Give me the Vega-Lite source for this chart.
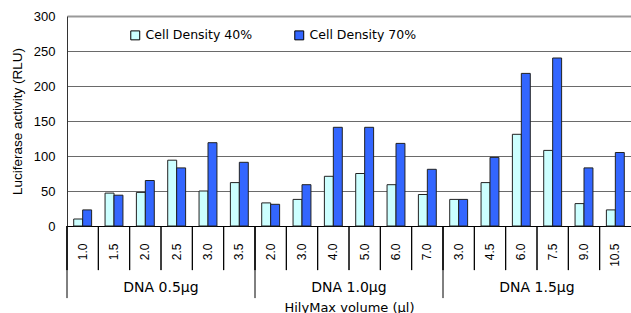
{
  "$schema": "https://vega.github.io/schema/vega-lite/v6.json",
  "width": 564,
  "height": 210,
  "autosize": {"type": "none"},
  "padding": {"left": 67, "top": 16, "right": 0, "bottom": 87},
  "config": {
    "font": "Liberation Sans", "view": {"stroke": null}, "text": {"font": "DejaVu Sans"},
    "axisY": {
      "values": [0, 50, 100, 150, 200, 250, 300], "tickCount": 7, "labelOverlap": false,
      "labelFontSize": 13, "labelColor": "#000", "labelPadding": 12,
      "ticks": false, "domainColor": "#333", "grid": true,
      "gridColor": {"expr": "datum.value == 300 ? '#999999' : '#6a6a6a'"},
      "gridWidth": {"expr": "datum.value == 300 ? 2 : 1.2"},
      "titleFontSize": 13.5, "titleFontWeight": "normal", "titleColor": "#000", "titlePadding": 9
    }
  },
  "datasets": {
    "bars": [
      {"cat": "0.5|1.0", "series": "Cell Density 40%", "value": 10},
      {"cat": "0.5|1.0", "series": "Cell Density 70%", "value": 23},
      {"cat": "0.5|1.5", "series": "Cell Density 40%", "value": 47},
      {"cat": "0.5|1.5", "series": "Cell Density 70%", "value": 44},
      {"cat": "0.5|2.0", "series": "Cell Density 40%", "value": 48},
      {"cat": "0.5|2.0", "series": "Cell Density 70%", "value": 65},
      {"cat": "0.5|2.5", "series": "Cell Density 40%", "value": 94},
      {"cat": "0.5|2.5", "series": "Cell Density 70%", "value": 83},
      {"cat": "0.5|3.0", "series": "Cell Density 40%", "value": 50},
      {"cat": "0.5|3.0", "series": "Cell Density 70%", "value": 119},
      {"cat": "0.5|3.5", "series": "Cell Density 40%", "value": 62},
      {"cat": "0.5|3.5", "series": "Cell Density 70%", "value": 91},
      {"cat": "1.0|2.0", "series": "Cell Density 40%", "value": 33},
      {"cat": "1.0|2.0", "series": "Cell Density 70%", "value": 31},
      {"cat": "1.0|3.0", "series": "Cell Density 40%", "value": 38},
      {"cat": "1.0|3.0", "series": "Cell Density 70%", "value": 59},
      {"cat": "1.0|4.0", "series": "Cell Density 40%", "value": 71},
      {"cat": "1.0|4.0", "series": "Cell Density 70%", "value": 141},
      {"cat": "1.0|5.0", "series": "Cell Density 40%", "value": 75},
      {"cat": "1.0|5.0", "series": "Cell Density 70%", "value": 141},
      {"cat": "1.0|6.0", "series": "Cell Density 40%", "value": 59},
      {"cat": "1.0|6.0", "series": "Cell Density 70%", "value": 118},
      {"cat": "1.0|7.0", "series": "Cell Density 40%", "value": 45},
      {"cat": "1.0|7.0", "series": "Cell Density 70%", "value": 81},
      {"cat": "1.5|3.0", "series": "Cell Density 40%", "value": 38},
      {"cat": "1.5|3.0", "series": "Cell Density 70%", "value": 38},
      {"cat": "1.5|4.5", "series": "Cell Density 40%", "value": 62},
      {"cat": "1.5|4.5", "series": "Cell Density 70%", "value": 98},
      {"cat": "1.5|6.0", "series": "Cell Density 40%", "value": 131},
      {"cat": "1.5|6.0", "series": "Cell Density 70%", "value": 218},
      {"cat": "1.5|7.5", "series": "Cell Density 40%", "value": 108},
      {"cat": "1.5|7.5", "series": "Cell Density 70%", "value": 240},
      {"cat": "1.5|9.0", "series": "Cell Density 40%", "value": 32},
      {"cat": "1.5|9.0", "series": "Cell Density 70%", "value": 83},
      {"cat": "1.5|10.5", "series": "Cell Density 40%", "value": 23},
      {"cat": "1.5|10.5", "series": "Cell Density 70%", "value": 105}
    ],
    "groups": [
      {"label": "DNA 0.5μg", "first": "0.5|1.0", "mid": "0.5|2.5"},
      {"label": "DNA 1.0μg", "first": "1.0|2.0", "mid": "1.0|5.0"},
      {"label": "DNA 1.5μg", "first": "1.5|3.0", "mid": "1.5|7.5"}
    ]
  },
  "layer": [
    {
      "data": {"name": "bars"},
      "mark": {"type": "bar", "stroke": "#222", "strokeWidth": 1},
      "encoding": {
        "x": {
          "field": "cat", "type": "nominal",
          "scale": {"domain": ["0.5|1.0","0.5|1.5","0.5|2.0","0.5|2.5","0.5|3.0","0.5|3.5","1.0|2.0","1.0|3.0","1.0|4.0","1.0|5.0","1.0|6.0","1.0|7.0","1.5|3.0","1.5|4.5","1.5|6.0","1.5|7.5","1.5|9.0","1.5|10.5"], "paddingInner": 0, "paddingOuter": 0},
          "axis": {
            "title": "HilyMax volume (μl)", "titleFont": "DejaVu Sans", "titleFontSize": 13, "titleFontWeight": "normal", "titleColor": "#000",
            "titleY": 85, "titleBaseline": "alphabetic",
            "labelExpr": "split(datum.label, '|')[1]", "labelAngle": 270, "labelAlign": "right", "labelBaseline": "middle",
            "labelPadding": 17, "labelFontSize": 12, "labelColor": "#000",
            "ticks": false, "domainColor": "#000", "grid": false
          }
        },
        "xOffset": {"field": "series", "type": "nominal", "scale": {"paddingInner": 0, "paddingOuter": 0.75}},
        "y": {
          "field": "value", "type": "quantitative",
          "scale": {"domain": [0, 300], "nice": false},
          "axis": {"title": "Luciferase activity (RLU)", "values": [0, 50, 100, 150, 200, 250, 300]}
        },
        "fill": {
          "field": "series", "type": "nominal",
          "scale": {"domain": ["Cell Density 40%", "Cell Density 70%"], "range": ["#CCFFFF", "#3366FF"]},
          "legend": {
            "orient": "none", "legendX": 62, "legendY": 13, "direction": "horizontal", "title": null,
            "symbolType": "square", "symbolSize": 80, "symbolStrokeColor": "#000", "symbolStrokeWidth": 1,
            "labelFont": "DejaVu Sans", "labelFontSize": 12.5, "labelColor": "#000", "columnPadding": 39, "labelOffset": 4
          }
        }
      }
    },
    {
      "data": {"name": "bars"},
      "mark": {"type": "rule", "color": "#000", "strokeWidth": 1},
      "encoding": {
        "x": {"field": "cat", "type": "nominal", "bandPosition": 0},
        "y": {"datum": 0, "type": "quantitative"},
        "y2": {"datum": -63}
      }
    },
    {
      "data": {"name": "groups"},
      "mark": {"type": "rule", "color": "#000", "strokeWidth": 1},
      "encoding": {
        "x": {"field": "first", "type": "nominal", "bandPosition": 0},
        "y": {"datum": 0, "type": "quantitative"},
        "y2": {"datum": -103}
      }
    },
    {
      "data": {"name": "groups"},
      "mark": {"type": "text", "baseline": "middle", "align": "center", "fontSize": 14, "color": "#000"},
      "encoding": {
        "x": {"field": "mid", "type": "nominal", "bandPosition": 0},
        "y": {"datum": -89, "type": "quantitative"},
        "text": {"field": "label"}
      }
    }
  ]
}
